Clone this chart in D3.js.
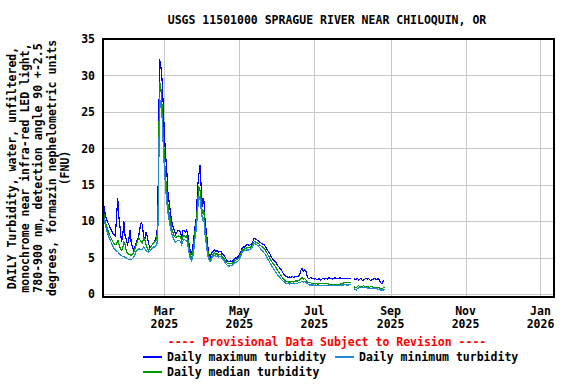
<!DOCTYPE html>
<html><head><meta charset="utf-8">
<script src="https://cdn.jsdelivr.net/npm/d3@7"></script>
<style>
body{margin:0;background:#fff;}
text{font-family:"DejaVu Sans Mono",monospace;font-weight:bold;font-size:11.5px;fill:#000;}
</style></head>
<body><svg id="c" width="576" height="384"></svg>
<script>
const title = "USGS 11501000 SPRAGUE RIVER NEAR CHILOQUIN, OR";
const yLabelLines = ["DAILY Turbidity, water, unfiltered,","monochrome near infra-red LED light,","780-900 nm, detection angle 90 +-2.5","degrees, formazin nephelometric units","(FNU)"];
const startDate = "2025-01-10";
const yTicks = [0,5,10,15,20,25,30,35];
const xTickDates = ["2025-03-01","2025-05-01","2025-07-01","2025-09-01","2025-11-01","2026-01-01"];
const xTickMonths = ["Mar","May","Jul","Sep","Nov","Jan"];
const xTickYears = ["2025","2025","2025","2025","2025","2026"];
const seriesNames = ["Daily maximum turbidity","Daily minimum turbidity","Daily median turbidity"];
const seriesColors = ["#0000ff","#1e8ad0","#009900"];

const maxVals = [
13.0,11.8,10.8,10.2,9.8,9.5,9.1,8.7,8.4,8.2,
8.0,10.5,13.2,10.5,9.0,7.2,8.0,10.0,8.0,7.5,
6.9,7.5,8.8,7.0,6.5,6.1,6.5,7.0,7.5,8.0,
9.0,9.8,9.6,8.0,7.5,8.6,8.0,7.0,6.5,6.5,
6.8,7.0,7.4,7.6,8.5,16.0,32.3,31.4,29.6,26.0,
21.8,19.0,16.6,13.5,12.5,11.1,10.0,9.3,8.8,8.2,
8.5,8.8,8.8,8.6,7.7,8.8,8.8,8.5,8.8,8.2,
7.0,6.0,5.4,6.5,7.9,9.5,10.6,14.8,16.4,17.7,
14.3,12.0,13.2,10.2,8.8,7.0,5.7,5.0,5.5,5.8,
6.0,6.1,5.9,6.0,5.8,5.9,5.9,5.6,5.4,5.2,
4.9,4.6,4.5,4.5,4.6,4.5,4.7,4.9,5.0,5.0,
5.2,5.4,5.8,6.3,6.5,6.5,6.6,6.8,6.8,6.7,
6.8,6.9,7.3,7.7,7.6,7.5,7.4,7.3,7.1,7.0,
6.9,6.8,6.6,6.3,6.0,5.8,5.5,5.1,4.9,4.7,
4.5,4.3,4.0,3.8,3.6,3.4,3.1,2.8,2.6,2.5,
2.4,2.3,2.4,2.3,2.5,2.3,2.4,2.5,2.4,2.5,
2.6,3.3,3.6,3.2,3.4,3.3,2.6,2.2,2.2,2.3,
2.2,2.2,2.1,2.2,2.0,2.1,2.2,2.0,2.1,2.2,
2.1,2.2,2.2,2.1,2.3,2.2,2.2,2.1,2.2,2.3,
2.2,2.2,2.2,2.3,2.2,2.2,2.2,2.2,2.2,2.2,
2.2,2.2,2.2,null,2.2,2.0,2.1,2.2,2.0,2.1,
2.2,1.9,2.0,2.1,2.2,2.1,2.2,2.0,1.9,2.1,
2.1,2.2,2.1,2.0,2.2,1.9,1.6,1.5,1.8,1.9];

const medianVals = [
12.0,10.6,9.8,9.3,8.8,8.3,7.9,7.6,7.2,7.0,
6.8,6.8,7.5,6.8,6.3,6.1,6.3,7.2,6.8,6.0,
5.6,5.5,5.4,5.4,5.5,5.8,6.2,6.8,7.2,7.7,
7.5,7.2,7.0,7.7,7.5,6.8,6.3,6.0,6.3,6.5,
6.8,7.0,7.2,7.3,8.0,13.0,29.1,28.5,26.0,22.0,
18.5,16.0,14.0,12.0,11.0,10.0,9.0,8.5,8.0,7.8,
7.9,8.0,8.0,7.9,7.3,7.9,8.1,7.8,8.0,7.5,
6.3,5.5,5.0,5.6,7.0,8.8,10.0,12.5,14.8,14.2,
12.5,11.0,11.5,9.2,7.8,6.3,5.3,4.8,5.0,5.4,
5.6,5.7,5.5,5.6,5.4,5.5,5.5,5.2,5.0,4.8,
4.5,4.3,4.2,4.2,4.3,4.2,4.4,4.6,4.7,4.8,
4.9,5.1,5.5,6.0,6.2,6.2,6.3,6.4,6.4,6.4,
6.5,6.6,7.0,7.2,7.2,7.1,7.0,6.9,6.7,6.6,
6.5,6.3,6.1,5.8,5.5,5.2,4.9,4.6,4.3,4.1,
3.9,3.6,3.3,3.1,2.8,2.6,2.3,2.1,1.9,1.8,
1.8,1.7,1.7,1.7,1.8,1.7,1.8,1.9,1.8,1.9,
2.0,2.2,2.3,2.1,2.2,2.0,1.8,1.6,1.6,1.6,
1.5,1.5,1.5,1.5,1.5,1.4,1.5,1.5,1.5,1.5,
1.5,1.5,1.5,1.5,1.4,1.4,1.4,1.4,1.4,1.4,
1.4,1.4,1.4,1.4,1.5,1.5,1.6,1.7,1.6,1.6,
1.6,1.7,1.6,null,1.1,1.0,0.9,1.1,1.2,1.1,
1.1,1.1,1.2,1.1,1.1,1.1,1.0,1.0,1.1,1.1,
1.0,1.0,1.0,1.0,0.9,0.9,0.8,0.8,0.9,1.0];

const minVals = [
11.3,10.2,9.4,8.8,8.3,7.8,7.4,7.0,6.6,6.3,
6.1,5.9,5.9,5.6,5.4,5.3,5.2,5.2,5.1,5.0,
4.9,4.8,4.8,4.8,4.9,5.1,5.5,5.9,6.1,6.3,
6.2,6.1,6.2,6.5,6.3,6.0,5.9,5.8,5.9,6.1,
6.3,6.5,6.5,6.6,7.0,10.5,27.0,26.0,24.6,20.5,
17.0,14.5,12.5,11.0,10.0,9.0,8.3,7.8,7.4,7.2,
7.3,7.4,7.4,7.3,6.8,7.3,7.6,7.4,7.4,6.8,
5.7,4.9,4.6,5.0,6.3,8.0,9.0,11.5,13.5,13.0,
11.5,10.2,10.5,8.3,7.0,5.6,4.8,4.5,4.7,5.1,
5.3,5.4,5.2,5.3,5.1,5.2,5.2,4.9,4.7,4.5,
4.2,4.0,3.9,3.9,4.0,3.9,4.1,4.3,4.4,4.5,
4.6,4.8,5.2,5.7,5.9,6.0,6.0,6.1,6.1,6.1,
6.2,6.3,6.7,7.0,6.9,6.8,6.7,6.5,6.3,6.1,
5.9,5.7,5.5,5.2,4.9,4.6,4.3,4.0,3.7,3.5,
3.2,3.0,2.7,2.5,2.3,2.1,1.9,1.8,1.6,1.5,
1.5,1.5,1.4,1.5,1.5,1.5,1.5,1.5,1.5,1.6,
1.6,1.7,1.8,1.7,1.8,1.7,1.5,1.4,1.3,1.3,
1.3,1.3,1.2,1.3,1.2,1.2,1.2,1.2,1.2,1.2,
1.2,1.2,1.2,1.2,1.2,1.2,1.2,1.2,1.2,1.2,
1.2,1.2,1.2,1.2,1.3,1.3,1.3,1.4,1.3,1.3,
1.3,1.4,1.3,null,0.8,0.7,0.6,0.8,0.9,0.9,
0.9,0.9,0.9,0.9,0.9,0.9,0.8,0.8,0.8,0.9,
0.8,0.8,0.8,0.8,0.7,0.7,0.6,0.6,0.6,0.7];

const svg = d3.select("#c");
const parse = d3.utcParse("%Y-%m-%d");
const t0 = parse(startDate);
const dates = maxVals.map((_, i) => d3.utcDay.offset(t0, i));

const L = 103, R = 554, T = 39, B = 297;
const x = d3.scaleUtc().domain([parse("2025-01-10"), parse("2026-01-12")]).range([L, R]);
const y = d3.scaleLinear().domain([-0.35, 35]).range([B, T]);

// grid
svg.append("g").selectAll("line.h").data(yTicks).join("line")
  .attr("x1", L).attr("x2", R).attr("y1", d => Math.round(y(d)) + 0.5).attr("y2", d => Math.round(y(d)) + 0.5)
  .attr("stroke", "#c8c8c8").attr("stroke-width", 1);
svg.append("g").selectAll("line.v").data(xTickDates).join("line")
  .attr("y1", T).attr("y2", B).attr("x1", d => Math.round(x(parse(d))) + 0.5).attr("x2", d => Math.round(x(parse(d))) + 0.5)
  .attr("stroke", "#c8c8c8").attr("stroke-width", 1);

// series
const series = [
  {vals: maxVals, color: seriesColors[0]},
  {vals: medianVals, color: seriesColors[2]},
  {vals: minVals, color: seriesColors[1]}
];
const line = d3.line().defined(d => d[1] != null).x(d => x(d[0])).y(d => y(d[1]));
series.forEach(s => {
  svg.append("path").datum(dates.map((dt, i) => [dt, s.vals[i]]))
    .attr("d", line).attr("fill", "none").attr("stroke", s.color).attr("stroke-width", 1.2)
    .attr("shape-rendering", "crispEdges");
});

// frame
svg.append("rect").attr("x", L).attr("y", T).attr("width", R - L).attr("height", B - T)
  .attr("fill", "none").attr("stroke", "#000").attr("stroke-width", 2);

// y tick labels
svg.append("g").selectAll("text").data(yTicks).join("text")
  .attr("x", 95).attr("y", d => y(d)).attr("dy", "0.35em").attr("text-anchor", "end").text(d => d);

// x tick labels
const xg = svg.append("g").selectAll("g").data(xTickDates).join("g")
  .attr("transform", d => `translate(${x(parse(d))},0)`);
xg.append("text").attr("y", 315).attr("text-anchor", "middle").text((d, i) => xTickMonths[i]);
xg.append("text").attr("y", 328).attr("text-anchor", "middle").text((d, i) => xTickYears[i]);

// title
svg.append("text").attr("x", 327).attr("y", 24).attr("text-anchor", "middle").text(title);

// y label
const yl = svg.append("text").attr("transform", `translate(0,168) rotate(-90)`).attr("text-anchor", "middle");
yLabelLines.forEach((s, i) => {
  yl.append("tspan").attr("x", 0).attr("y", 16 + i * 13.2).text(s);
});

// legend
svg.append("text").attr("x", 327).attr("y", 346).attr("text-anchor", "middle").style("fill", "#ff0000")
  .text("---- Provisional Data Subject to Revision ----");
const legItems = [
  {name: seriesNames[0], color: seriesColors[0], lx: 143, ly: 357},
  {name: seriesNames[1], color: seriesColors[1], lx: 335, ly: 357},
  {name: seriesNames[2], color: seriesColors[2], lx: 143, ly: 372}
];
legItems.forEach(it => {
  svg.append("line").attr("x1", it.lx).attr("x2", it.lx + 19).attr("y1", it.ly).attr("y2", it.ly)
    .attr("stroke", it.color).attr("stroke-width", 1.2).attr("shape-rendering", "crispEdges");
  svg.append("text").attr("x", it.lx + 24).attr("y", it.ly).attr("dy", "0.35em").text(it.name);
});
</script></body></html>
